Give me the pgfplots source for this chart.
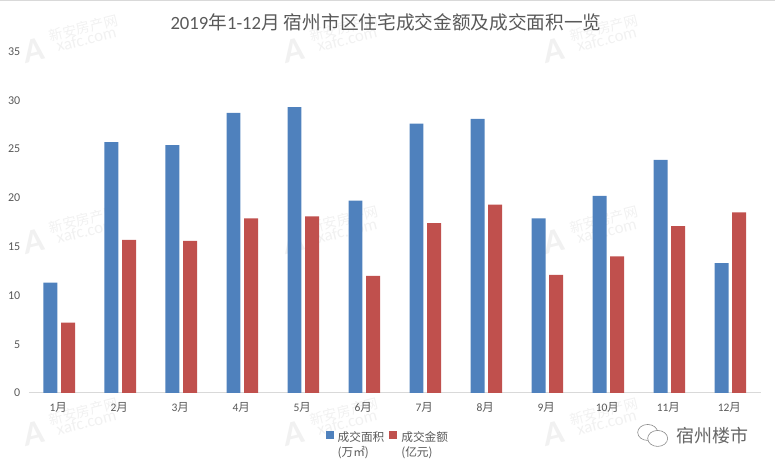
\documentclass[border=0pt]{standalone}
\usepackage{fontspec}
\setmainfont{Carlito}
\newfontfamily\cjk{Noto Sans CJK SC}
\usepackage{pgfplots}
\pgfplotsset{compat=1.18}
\definecolor{barblue}{HTML}{4F81BD}
\definecolor{barred}{HTML}{C0504D}
\definecolor{gridgray}{HTML}{D9D9D9}
\definecolor{txt}{HTML}{595959}
\definecolor{wm}{HTML}{F1F1F1}
% watermark: #1,#2 = left end of the logo, y from the bottom of the picture
\newcommand{\wmark}[2]{%
  \node[wm,rotate=14,font=\bfseries\itshape\fontsize{34}{34}\selectfont,inner sep=0pt] at (#1pt+16pt,#2pt-50pt) {A};
  \node[wm,rotate=14,font=\cjk\fontsize{14}{14}\selectfont,inner sep=0pt] at (#1pt+66pt,#2pt-28pt) {新安房产网};
  \node[wm,rotate=14,font=\fontsize{17}{17}\selectfont,inner sep=0pt] at (#1pt+69pt,#2pt-39pt) {xafc.com};
}
\begin{document}
\begin{tikzpicture}[x=1pt,y=1pt]
\path (0,0) rectangle (775,469);
\draw[gridgray,line width=1pt] (0,468.5) -- (775,468.5);
\foreach \py in {469,277,85}{
  \foreach \px in {17,278,538}{
    \wmark{\px}{\py}
  }
}
\begin{axis}[
    at={(28.3pt,75.5pt)},anchor=south west,
    scale only axis,
    width=733pt,height=342pt,
    ybar,
    bar width=14pt,
    ymin=0,ymax=35,
    ytick={0,5,...,35},
    xmin=-0.5,xmax=11.5,
    xtick=data,
    xticklabels={1{\cjk 月},2{\cjk 月},3{\cjk 月},4{\cjk 月},5{\cjk 月},6{\cjk 月},7{\cjk 月},8{\cjk 月},9{\cjk 月},10{\cjk 月},11{\cjk 月},12{\cjk 月}},
    /pgf/number format/assume math mode=true,
    axis x line*=bottom,
    axis y line=none,
    ymajorgrids,
    grid style={gridgray,line width=0.9pt},
    x axis line style={gridgray,line width=1pt,-},
    major tick length=0pt,
    tick style={draw=none},
    x tick label style={font=\fontsize{11.5}{12}\selectfont,text=txt,yshift=-6pt,xshift=-1pt},
    clip=false,
    legend style={at={(0.4012,-0.106)},anchor=north west,draw=none,fill=none,
        legend columns=2,font=\cjk\fontsize{11.7}{14.5}\selectfont,text=txt,
        nodes={align=left,inner sep=0pt},
        /tikz/every odd column/.append style={column sep=4pt},
        /tikz/every even column/.append style={column sep=5pt}},
    legend image code/.code={\fill[#1,draw=none] (0pt,5.5pt) rectangle (8pt,13.5pt);},
]
\addplot[fill=barblue,draw=none,bar shift=-8.8pt] coordinates {
    (0,11.3) (1,25.7) (2,25.4) (3,28.7) (4,29.3) (5,19.7)
    (6,27.6) (7,28.1) (8,17.9) (9,20.2) (10,23.9) (11,13.3)
};
\addplot[fill=barred,draw=none,bar shift=8.8pt] coordinates {
    (0,7.2) (1,15.7) (2,15.6) (3,17.9) (4,18.1) (5,12.0)
    (6,17.4) (7,19.3) (8,12.1) (9,14.0) (10,17.1) (11,18.5)
};
\legend{成交面积\\(万㎡),成交金额\\(亿元)}
\end{axis}
% y tick labels sit left of the axis, right aligned at x=20
\foreach \v in {0,5,...,35}{
  \pgfmathsetmacro{\yy}{75.5+\v*342/35}
  \node[anchor=east,inner sep=0pt,text=txt,font=\fontsize{12}{12}\selectfont] at (20pt,\yy pt) {\v};
}
\node[text=txt,font=\fontsize{18.7}{19}\selectfont,inner sep=0pt] at (386pt,447pt) {2019{\cjk 年}1-12{\cjk 月 宿州市区住宅成交金额及成交面积一览}};
% wechat icon and account name
\draw[black!45,line width=0.6pt,fill=white] (648pt,36pt) ellipse (10pt and 8pt);
\draw[black!45,line width=0.6pt,fill=white] (658pt,30pt) ellipse (10pt and 8pt);
\node[anchor=west,text=black!60,font=\cjk\fontsize{18}{18}\selectfont,inner sep=0pt] at (677pt,33pt) {宿州楼市};
\end{tikzpicture}
\end{document}
